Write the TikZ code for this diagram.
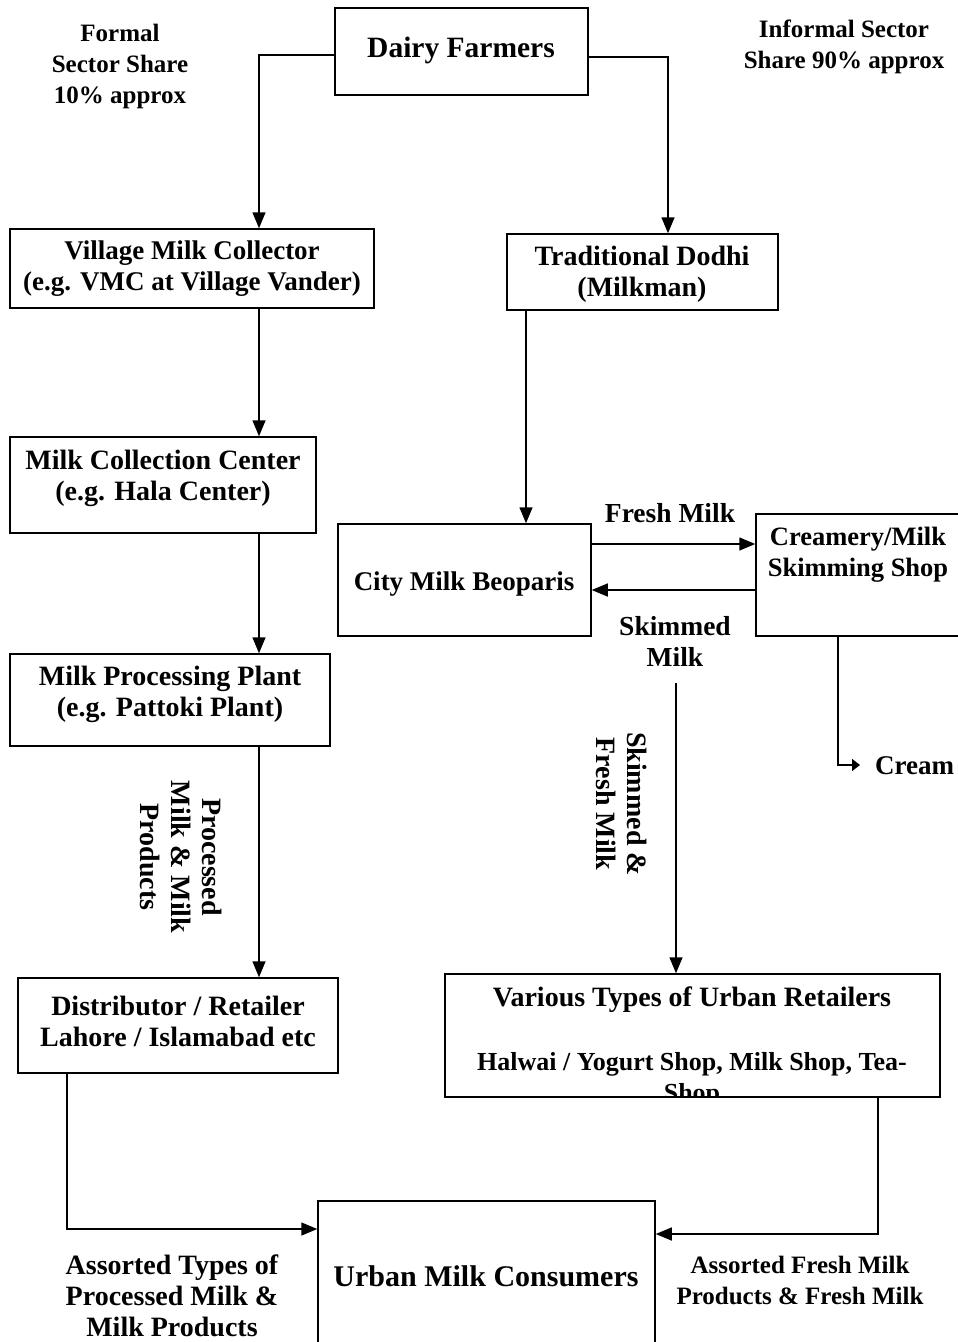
\documentclass[tikz,border=0pt]{standalone}
\usepackage{fontspec}
\setmainfont{Liberation Serif}
\usetikzlibrary{arrows.meta}
\newcommand{\fs}[1]{\bfseries\fontsize{#1}{31}\selectfont}
\begin{document}
\begin{tikzpicture}[x=1pt,y=-1pt,
  box/.style={draw, line width=1.5pt, inner sep=0pt},
  lbl/.style={font=\fs{28}, align=center, inner sep=0pt},
  conn/.style={line width=1.5pt, -{Triangle[length=16pt,width=13pt]}},
  small/.style={line width=1.5pt, -{Triangle[length=8pt,width=12pt]}}]
\useasboundingbox (0,0) rectangle (958,1342);
% boxes
\node[box, minimum width=253, minimum height=87] (df) at (461.5,51.5) {};
\node[box, minimum width=364, minimum height=79] (vmc) at (192,268.5) {};
\node[box, minimum width=271, minimum height=76] (dod) at (642.5,272) {};
\node[box, minimum width=306, minimum height=96] (mcc) at (163,485) {};
\node[box, minimum width=253, minimum height=112] (cmb) at (464.5,580) {};
\node[box, minimum width=230, minimum height=122] (crm) at (871,575) {};
\node[box, minimum width=320, minimum height=92] (mpp) at (170,700) {};
\node[box, minimum width=320, minimum height=95] (dist) at (178,1025.5) {};
\node[box, minimum width=495, minimum height=123] (ret) at (692.5,1035.5) {};
\node[box, minimum width=337, minimum height=160] (uc) at (486.5,1281) {};
% box texts
\node[lbl, font=\fs{29.5}] (dft) at (461,50) {Dairy Farmers};
\node[lbl, font=\fs{27}] (vmct) at (192,269) {Village Milk Collector\\(e.g. VMC at Village Vander)};
\node[lbl] (dodt) at (642,274) {Traditional Dodhi\\(Milkman)};
\node[lbl] (mcct) at (163,478) {Milk Collection Center\\(e.g. Hala Center)};
\node[lbl, font=\fs{27}] (cmbt) at (464,584) {City Milk Beoparis};
\node[lbl, font=\fs{26.5}] (crmt) at (858,555) {Creamery/Milk\\Skimming Shop};
\node[lbl] (mppt) at (170,694) {Milk Processing Plant\\(e.g. Pattoki Plant)};
\node[lbl] (distt) at (178,1021) {Distributor / Retailer\\Lahore / Islamabad etc};
\begin{scope}
\clip (ret.south west) rectangle (ret.north east);
\node[lbl, font=\fs{28}] (rett) at (692,1000) {Various Types of Urban Retailers};
\node[lbl, font=\fs{26}, anchor=north] (rett2) at (692,1052) {Halwai / Yogurt Shop, Milk Shop, Tea-\\Shop};
\end{scope}
\node[lbl, font=\fs{30}] (uct) at (486,1276) {Urban Milk Consumers};
% free labels
\node[lbl, font=\fs{25}] (formal) at (120,66) {Formal\\Sector Share\\10\% approx};
\node[lbl, font=\fs{25}] (informal) at (844,47) {Informal Sector\\Share 90\% approx};
\node[lbl, font=\fs{27.5}] (fresh) at (670,513) {Fresh Milk};
\node[lbl, font=\fs{27.5}] (skim) at (675,641) {Skimmed\\Milk};
\node[lbl, font=\fs{27}, anchor=west] (cream) at (875,766) {Cream};
\node[lbl, rotate=-90] (proc) at (181,857) {Processed\\Milk \& Milk\\Products};
\node[lbl, rotate=-90] (sfm) at (622,804) {Skimmed \&\\Fresh Milk};
\node[lbl] (aproc) at (172,1296) {Assorted Types of\\Processed Milk \&\\Milk Products};
\node[lbl, font=\fs{25}] (afresh) at (800,1280) {Assorted Fresh Milk\\Products \& Fresh Milk};
% connectors
\draw[conn] (df.west |- 0,55) -| (vmc.north -| 259,0);
\draw[conn] (df.east |- 0,57) -| (dod.north -| 668,0);
\draw[conn] (vmc.south -| 259,0) -- (mcc.north -| 259,0);
\draw[conn] (mcc.south -| 259,0) -- (mpp.north -| 259,0);
\draw[conn] (mpp.south -| 259,0) -- (dist.north -| 259,0);
\draw[conn] (dod.south -| 526,0) -- (cmb.north -| 526,0);
\draw[conn] (cmb.east |- 0,544) -- (crm.west |- 0,544);
\draw[conn] (crm.west |- 0,590) -- (cmb.east |- 0,590);
\coordinate (sfstart) at (676,683);
\draw[conn] (sfstart) -- (ret.north -| sfstart);
\coordinate (creamtip) at (860,765);
\draw[small] (crm.south -| 838,0) |- (creamtip);
\draw[conn] (dist.south -| 67,0) |- (uc.west |- 0,1229);
\draw[conn] (ret.south -| 878,0) |- (uc.east |- 0,1234);
\end{tikzpicture}
\end{document}
